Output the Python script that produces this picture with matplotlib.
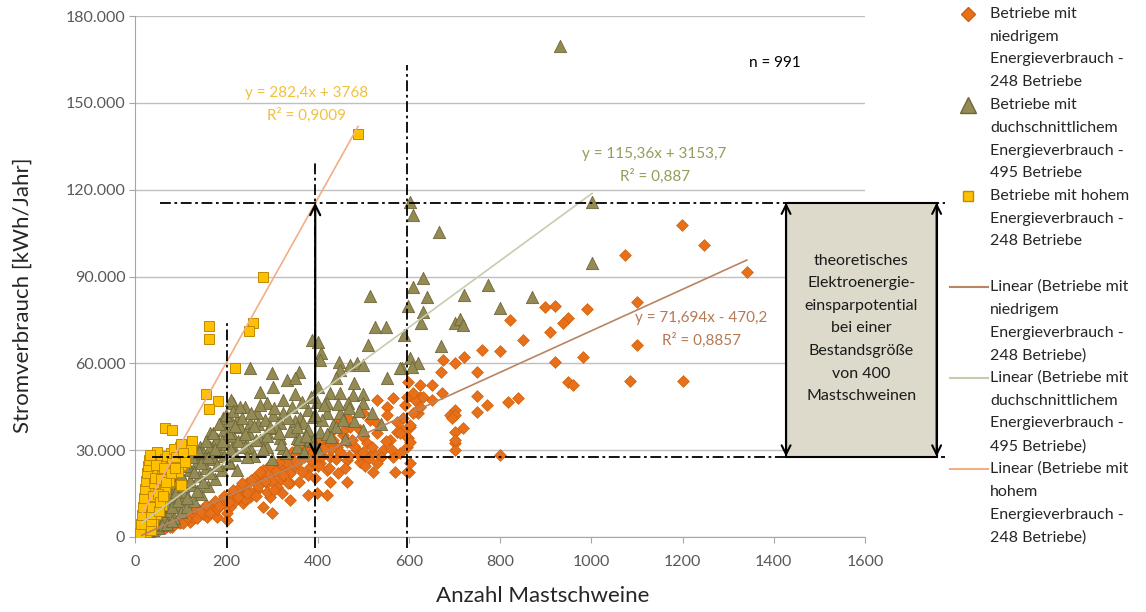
import matplotlib
matplotlib.use('Agg')
import numpy as np
import matplotlib.pyplot as plt
from matplotlib.lines import Line2D
from matplotlib.patches import Rectangle
from matplotlib.ticker import FuncFormatter, MultipleLocator

plt.rcParams['font.family'] = ['Lato', 'DejaVu Sans']

# (Anzahl Mastschweine, Stromverbrauch kWh/Jahr)
low_pts = [
    (1199, 107800), (1247, 100900), (1074, 97400), (1341, 91600), (1100, 81200), (1100, 66300),
    (1085, 53900), (1201, 53900), (899, 79500), (921, 79800), (991, 78800), (822, 75000),
    (949, 75700), (938, 73900), (910, 70800), (851, 68000), (760, 64600), (800, 64300),
    (720, 62200), (701, 60100), (676, 61100), (921, 60500), (982, 62200), (670, 57000),
    (750, 57000), (949, 53600), (960, 52500), (599, 53600), (625, 52500), (650, 52500),
    (672, 49700), (750, 48700), (650, 47300), (625, 48400), (614, 47300), (701, 43900),
    (690, 42100), (750, 43200), (771, 45600), (818, 46600), (839, 48000), (592, 45600),
    (620, 42800), (719, 37700), (701, 36300), (603, 38000), (585, 37000), (701, 32500),
    (701, 30100), (599, 34200), (596, 31100), (800, 28300), (601, 22500),
    (530, 47300), (565, 48000), (552, 44900), (596, 48400), (609, 49700), (631, 48400),
    (500, 42800), (515, 40400), (465, 41500), (443, 39400), (471, 38000), (493, 37000),
    (530, 39400), (552, 42100), (574, 39700), (587, 41100), (609, 42800), (625, 44900),
    (701, 42100), (695, 41100), (434, 37000), (456, 35200), (500, 34600), (530, 35900),
    (559, 33500), (574, 36300), (603, 38700), (596, 34600), (603, 32800), (701, 33500),
    (355, 30100), (384, 31100), (399, 32500), (421, 32800), (443, 31100), (465, 32800),
    (487, 30100), (508, 32500), (522, 29000), (544, 30100), (565, 27600), (581, 29000),
    (603, 25600), (596, 22500), (493, 25900), (465, 26600), (427, 27600), (405, 25600),
    (399, 27600), (384, 24200), (368, 29000), (340, 27600), (318, 24200), (333, 23100),
    (302, 22100), (281, 23100), (267, 19700), (289, 18700), (245, 18700), (311, 17300),
    (267, 16200), (252, 13800), (230, 15200), (208, 13500), (237, 11700), (208, 10400),
    (186, 11100), (171, 9300), (136, 8300), (158, 6900), (121, 5200), (99, 4800),
    (77, 3500), (61, 3100), (180, 6900), (202, 8300), (202, 5900), (522, 22500),
    (465, 19000), (427, 19000), (399, 15200), (421, 14500), (379, 14500), (340, 18700),
    (340, 12800), (322, 15200), (300, 8300), (281, 10400), (296, 13800),
    (30, 1500), (40, 2200), (50, 2800), (70, 3900), (85, 4500), (90, 5600), (110, 6200),
    (120, 7400), (130, 6500), (140, 9500), (150, 8000), (160, 10200), (170, 11500),
    (180, 9800), (190, 12800), (200, 11000), (210, 14500), (220, 12500), (230, 17200),
    (240, 13000), (250, 16000), (260, 20500), (270, 17500), (280, 21000), (290, 15500),
    (300, 19500), (310, 22800), (320, 20000), (330, 26000), (340, 22000), (350, 24500),
    (360, 19000), (370, 27500), (380, 21500), (390, 29500), (400, 24500), (410, 28000),
    (420, 23000), (430, 30500), (440, 27000), (450, 29500), (460, 24000), (480, 31500),
    (490, 28500), (510, 27000), (520, 31000), (540, 27500), (560, 30500), (580, 36000),
    (20, 800), (25, 1200), (35, 1700), (45, 2500), (55, 2600), (60, 3800), (65, 3000),
    (75, 4600), (80, 3400), (95, 5200), (100, 6500), (105, 4800), (115, 7000), (125, 8600),
    (135, 6400), (145, 8800), (155, 11000), (165, 8300), (175, 12500), (185, 10600),
    (195, 14000), (205, 12200), (215, 16200), (225, 13800), (235, 18500), (245, 15200),
    (255, 19800), (265, 14300), (275, 22500), (285, 19200), (295, 24800), (305, 16400),
    (315, 26000), (325, 21500), (335, 18500), (345, 29500), (355, 25500), (365, 22500),
    (375, 31000), (385, 26500), (395, 20500), (405, 33500), (415, 30500), (425, 24000),
    (435, 33500), (445, 22000), (455, 36500), (470, 28000), (475, 33500), (500, 29500),
    (505, 24500), (530, 25500), (550, 33000), (570, 22500),
]

mid_pts = [
    (932, 169600), (1002, 115700), (603, 115700), (609, 111200), (666, 105400), (1002, 94700),
    (631, 89500), (609, 86400), (640, 82900), (774, 87100), (721, 83600), (870, 82900),
    (598, 79800), (631, 77700), (800, 79100), (701, 73900), (712, 75300), (719, 73200),
    (627, 73900), (590, 69800), (670, 66000), (603, 61800), (620, 60100), (585, 58400),
    (607, 58700), (515, 83300), (526, 72500), (550, 72500), (511, 66300), (388, 68100),
    (401, 67400), (408, 63600), (405, 61200), (447, 60500), (471, 59400), (487, 60100),
    (500, 59400), (449, 57700), (581, 58400), (552, 54900), (441, 54900), (480, 53200),
    (252, 58400), (300, 56700), (359, 57000), (333, 54200), (351, 54900), (274, 50100),
    (302, 51800), (351, 49400), (401, 51800), (427, 49700), (449, 49700), (478, 49100),
    (500, 49400), (500, 46300), (467, 46300), (421, 46300), (379, 43900), (399, 46600),
    (289, 46300), (241, 44900), (215, 46300), (267, 42800), (302, 42100), (324, 42800),
    (362, 41100), (390, 41500), (421, 42800), (449, 42800), (223, 40400), (252, 39400),
    (289, 36300), (318, 39400), (368, 39400), (405, 36300), (434, 38700), (237, 34600),
    (274, 33500), (318, 34200), (355, 34200), (384, 33500), (215, 31100), (252, 30800),
    (289, 31100), (324, 30800), (355, 31100), (208, 25600), (223, 23100), (210, 47300),
    (193, 41100), (164, 35900), (178, 33500), (143, 31100), (123, 30100),
    (25, 3000), (30, 5000), (35, 4000), (40, 6500), (45, 3500), (50, 8000), (55, 5500),
    (60, 10000), (65, 7000), (70, 12000), (75, 9000), (80, 14500), (85, 6500), (90, 11000),
    (95, 17000), (100, 13000), (100, 8500), (105, 20000), (110, 15500), (115, 10500),
    (120, 23000), (125, 18000), (130, 12500), (135, 26000), (140, 21000), (145, 15000),
    (150, 29000), (155, 24000), (160, 17500), (165, 31000), (170, 27000), (175, 20000),
    (180, 34000), (185, 29500), (190, 23000), (195, 37000), (200, 32000), (205, 26000),
    (210, 40000), (215, 35000), (220, 28500), (230, 38000), (240, 31000), (250, 36000),
    (260, 28000), (270, 39000), (280, 30500), (290, 35000), (300, 27000), (310, 37500),
    (320, 32000), (330, 29000), (340, 36500), (350, 40000), (360, 34000), (370, 29500),
    (380, 37000), (390, 33000), (400, 30000), (410, 40500), (420, 35500), (440, 38000),
    (460, 34000), (480, 40000), (500, 37000), (520, 43000), (540, 39000),
    (20, 1500), (30, 2000), (40, 2500), (50, 3000), (60, 4000), (70, 4500), (80, 5500),
    (20, 3500), (25, 5500), (30, 7500), (35, 9000), (40, 4500), (45, 10500), (50, 12500),
    (55, 9500), (60, 14000), (65, 12000), (70, 16500), (75, 14000), (80, 10500), (85, 18500),
    (90, 15500), (95, 12500), (100, 21500), (105, 17500), (110, 24500), (115, 13500),
    (120, 19500), (125, 27500), (130, 22500), (135, 16000), (140, 29500), (145, 25500),
    (150, 19000), (155, 33000), (160, 27500), (165, 22000), (170, 36000), (175, 30500),
    (180, 25000), (185, 39000), (190, 33000), (195, 28000), (200, 42000), (205, 36000),
    (210, 30500), (215, 43500), (220, 38500), (225, 33000), (230, 45000), (235, 41000),
    (240, 35500), (245, 27500), (255, 43000), (260, 38500), (265, 33500), (275, 45500),
    (285, 40500), (295, 38000), (305, 44500), (315, 36000), (325, 47500), (335, 41000),
    (345, 45000), (355, 38000), (365, 46500), (375, 35000), (385, 48500), (395, 42000),
    (415, 45500), (430, 34500), (445, 46000), (455, 40500), (470, 44500), (490, 43500),
]

high_pts = [
    (489, 139200), (281, 89800), (259, 73900), (250, 71200), (219, 58400), (162, 72900),
    (162, 68400), (156, 49400), (182, 47000), (162, 44200), (66, 37700), (81, 37000),
    (125, 33200), (99, 31100), (48, 29400), (79, 29000), (123, 30100), (42, 25200),
    (66, 26900), (77, 24200), (101, 24900), (28, 21400), (50, 22100), (68, 21400),
    (15, 3000), (18, 6000), (20, 9000), (22, 12000), (25, 15000), (28, 7000), (30, 18000),
    (32, 10500), (35, 13000), (38, 20000), (40, 5000), (42, 16000), (45, 23000), (48, 12000),
    (50, 19000), (55, 15500), (58, 26000), (60, 21000), (65, 17000), (70, 28000),
    (72, 23500), (75, 19500), (80, 25500), (85, 30500), (90, 27500), (95, 22500),
    (100, 32000), (105, 29000), (110, 26000), (100, 18000), (60, 11000), (45, 8000),
    (30, 4000), (20, 2500), (25, 1800), (35, 2500),
    (12, 1500), (14, 4500), (16, 7500), (18, 10500), (20, 13500), (22, 16500), (24, 19500),
    (26, 22000), (28, 24500), (30, 26500), (32, 28500), (34, 5500), (36, 8000), (38, 10500),
    (40, 14000), (42, 18500), (44, 20500), (46, 25000), (50, 15000), (52, 9000), (54, 12000),
    (56, 20000), (62, 14000), (64, 24000), (68, 19000), (78, 22000), (88, 24000),
]

# trend lines: slope, intercept, x range
fit_slope = [71.694, 115.36, 282.4]
fit_icept = [-470.2, 3153.7, 3768]
fit_xmax = [1341, 1002, 489]
fit_text = ['y = 71,694x - 470,2\nR² = 0,8857',
            'y = 115,36x + 3153,7\nR² = 0,887',
            'y = 282,4x + 3768\nR² = 0,9009']
fit_text_pos = [(1242, 71700), (1139, 128500), (376, 149600)]

legend_labels = [
    'Betriebe mit\nniedrigem\nEnergieverbrauch -\n248 Betriebe',
    'Betriebe mit\nduchschnittlichem\nEnergieverbrauch -\n495 Betriebe',
    'Betriebe mit hohem\nEnergieverbrauch -\n248 Betriebe',
    'Linear (Betriebe mit\nniedrigem\nEnergieverbrauch -\n248 Betriebe)',
    'Linear (Betriebe mit\nduchschnittlichem\nEnergieverbrauch -\n495 Betriebe)',
    'Linear (Betriebe mit\nhohem\nEnergieverbrauch -\n248 Betriebe)',
]

box_text = 'theoretisches\nElektroenergie-\neinsparpotential\nbei einer\nBestandsgröße\nvon 400\nMastschweinen'

c_low, c_mid, c_high = '#E8701A', '#948A54', '#FFC000'
e_low, e_mid, e_high = '#D0600A', '#6E6638', '#C08A00'
c_fit = ['#B98462', '#C8CCAE', '#F4AE86']
c_eq = ['#B57A55', '#8FA05A', '#F0C040']

W, H = 1146, 612
fig = plt.figure(figsize=(W / 100, H / 100), dpi=100)
ax = fig.add_axes([135 / W, 1 - 537 / H, 730 / W, 521 / H])

lx, ly = zip(*low_pts)
mx, my = zip(*mid_pts)
hx, hy = zip(*high_pts)
ax.scatter(lx, ly, marker='D', s=36, color=c_low, edgecolors=e_low, linewidths=0.5, zorder=3)
ax.scatter(mx, my, marker='^', s=78, color=c_mid, edgecolors=e_mid, linewidths=0.6, zorder=3)
ax.scatter(hx, hy, marker='s', s=46, color=c_high, edgecolors=e_high, linewidths=0.7, zorder=3)

for m, b, xm, col, txt, pos, ce in zip(fit_slope, fit_icept, fit_xmax, c_fit, fit_text, fit_text_pos, c_eq):
    xs = np.array([15, xm])
    ax.plot(xs, m * xs + b, color=col, lw=1.2, zorder=4)
    for k, line in enumerate(txt.split('\n')):
        ax.annotate(line, xy=pos, xytext=(0, 8 - 16 * k), textcoords='offset points',
                    ha='center', va='center', fontsize=11, color=ce)

ax.text(1402, 163800, 'n = 991', ha='center', va='center', fontsize=11, color='#000000')

# savings potential at 400 animals
y_lo, y_hi = 27800, 115500
dd = dict(color='black', lw=1.3, dashes=(6, 2, 1.5, 2), zorder=5, clip_on=False)
ax.plot([55, 1775], [y_hi, y_hi], **dd)
ax.plot([37, 1775], [y_lo, y_lo], **dd)
ax.plot([201, 201], [-3800, 75000], **dd)
ax.plot([395, 395], [-3800, 129200], **dd)
ax.plot([596, 596], [-3800, 163000], **dd)
ax.annotate('', xy=(395, y_hi), xytext=(395, y_lo),
            arrowprops=dict(arrowstyle='<->', lw=1.6, color='black', mutation_scale=18,
                            shrinkA=0, shrinkB=0), zorder=6)

bx0, bx1 = 1427, 1757
ax.add_patch(Rectangle((bx0, y_lo), bx1 - bx0, y_hi - y_lo, facecolor='#DDDACB',
                       edgecolor='black', lw=1.5, zorder=6, clip_on=False))
for bx in (bx0, bx1):
    ax.annotate('', xy=(bx, y_hi), xytext=(bx, y_lo), annotation_clip=False,
                arrowprops=dict(arrowstyle='<->', lw=1.5, color='black', mutation_scale=16,
                                shrinkA=0, shrinkB=0), zorder=7)
for k, line in enumerate(box_text.split('\n')):
    ax.annotate(line, xy=((bx0 + bx1) / 2, 72000), xytext=(0, 49 - 16.3 * k),
                textcoords='offset points', ha='center', va='center', fontsize=11.5,
                color='#1A1A1A', annotation_clip=False, zorder=8)

ax.set_xlim(0, 1600)
ax.set_ylim(0, 180000)
ax.xaxis.set_major_locator(MultipleLocator(200))
ax.yaxis.set_major_locator(MultipleLocator(30000))
ax.yaxis.set_major_formatter(FuncFormatter(lambda v, p: f'{int(v):,}'.replace(',', '.')))
ax.grid(axis='y', color='#BFBFBF', lw=1)
ax.set_axisbelow(True)
for s in ('top', 'right'):
    ax.spines[s].set_visible(False)
for s in ('left', 'bottom'):
    ax.spines[s].set_color('#A6A6A6')
ax.tick_params(axis='both', direction='out', length=4, color='#A6A6A6',
               labelcolor='#595959', labelsize=11.5)
ax.tick_params(axis='y', pad=3)
ax.tick_params(axis='x', pad=9)
ax.set_xlabel('Anzahl Mastschweine', fontsize=16, color='#262626')
ax.set_ylabel('Stromverbrauch [kWh/Jahr]', fontsize=16, color='#262626')
ax.xaxis.set_label_coords(0.559, -0.095)
ax.yaxis.set_label_coords(-0.14, 0.464)

# legend, drawn entry by entry so the symbol sits on the first line
pitch = 22.75
row = 0
handles = [
    dict(marker='D', ms=7, color=c_low, mec=e_low, ls='none'),
    dict(marker='^', ms=11, color=c_mid, mec=e_mid, ls='none'),
    dict(marker='s', ms=7.5, color=c_high, mec=e_high, ls='none'),
    dict(color=c_fit[0], lw=1.5),
    dict(color=c_fit[1], lw=1.5),
    dict(color=c_fit[2], lw=1.5),
]
for i, (lab, hd) in enumerate(zip(legend_labels, handles)):
    if i == 3:
        row += 1
    y0 = 14 + row * pitch
    if 'marker' in hd:
        fig.add_artist(Line2D([968 / W], [1 - y0 / H], **hd))
    else:
        fig.add_artist(Line2D([950 / W, 988 / W], [1 - y0 / H] * 2, **hd))
    for line in lab.split('\n'):
        fig.text(990 / W, 1 - (14 + row * pitch) / H, line, ha='left', va='center',
                 fontsize=11.5, color='#262626')
        row += 1

fig.savefig('out.png', dpi=100)
